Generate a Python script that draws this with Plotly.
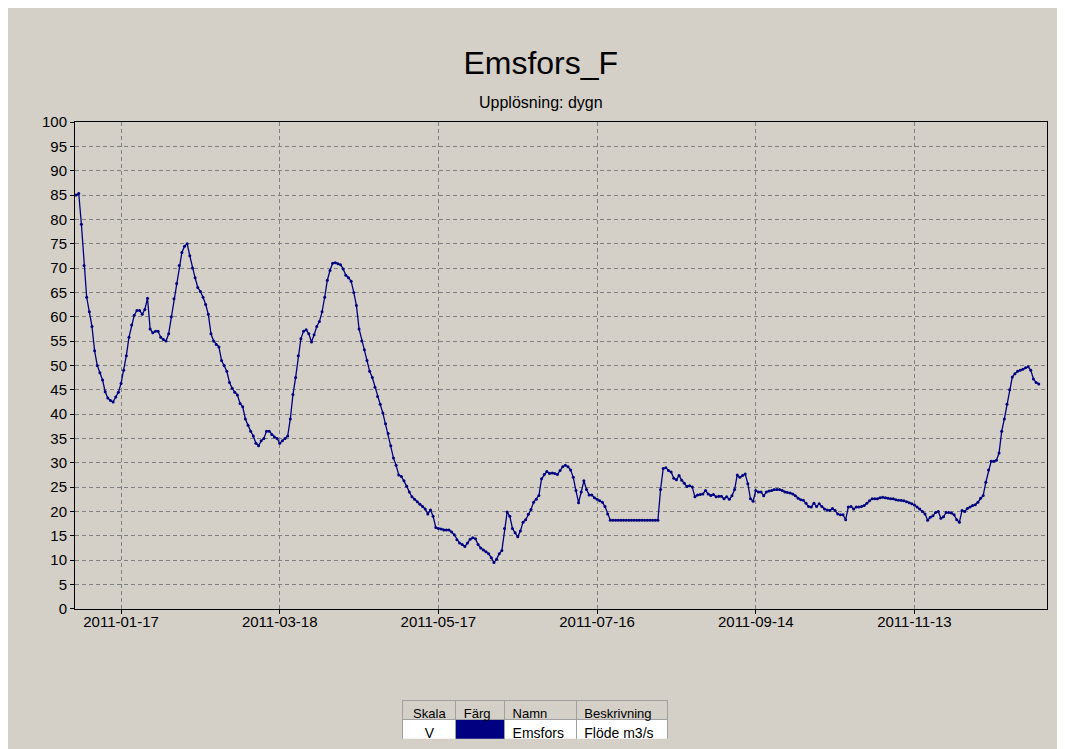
import pandas as pd
import plotly.graph_objects as go

# Daily flow (m3/s) for Emsfors, starting 2010-12-31
flow_q1 = [
    85, 85.3, 79, 70.5, 64, 61, 58, 53, 50, 48.5,
    47, 44.6, 43.3, 42.8, 42.5, 43.5, 44.5, 46.3, 49, 52,
    55.8, 58.3, 60.3, 61.3, 61.3, 60.5, 61.5, 63.8, 57.5, 56.7,
    57, 57, 55.8, 55.3, 55, 56.5, 60, 63.7, 66.8, 70.5,
    73.2, 74.5, 75, 72.5, 70, 68, 66, 65.2, 64, 62.5,
    60.5, 56.5, 55, 54.3, 53.8, 51, 50, 48.8, 46.5, 45.3,
    44.5, 43.9, 42.2, 41.5, 39, 37.7, 36.5, 35.5, 34, 33.5,
    34.5, 35, 36.5, 36.5, 35.8, 35.3, 35, 34, 34.5, 35,
    35.5, 39, 44, 47.5, 52, 55.5, 57, 57.3, 56.5, 54.8,
    56.3,
]
flow_q2 = [
    58, 59, 61, 64, 67.5, 69.5, 71, 71.1, 70.9,
    70.7, 69.8, 68.5, 68, 67.3, 65, 62.3, 57.5, 55, 53.2,
    51, 48.8, 47.5, 45.5, 43.6, 42, 40.2, 38, 36, 33.5,
    31, 29.5, 27.5, 27.2, 26.3, 25.2, 24, 23, 22.5, 22,
    21.5, 21, 20.5, 19.5, 20.3, 19, 16.7, 16.5, 16.4, 16.2,
    16.2, 16.2, 15.8, 15.2, 14.2, 13.5, 13.2, 12.8, 13.5, 14.3,
    14.6, 14.4, 13.2, 12.5, 12.1, 11.7, 11.3, 10.5, 9.5, 10.2,
    11.3, 12, 16.5, 19.9, 19, 16.5, 15.6, 14.8, 16, 17.8,
    18.3, 19.4, 20.4, 21.9, 22.5, 23.3, 26.7, 27.6, 28.2, 27.8,
    27.9, 27.8,
]
flow_q3 = [
    27.6, 28.4, 29.2, 29.5, 29.2, 28.5, 27, 24.3,
    21.8, 24, 26.3, 24.5, 23.4, 23.4, 22.8, 22.5, 22.2, 21.9,
    21, 19.5, 18.2, 18.2, 18.2, 18.2, 18.2, 18.2, 18.2, 18.2,
    18.2, 18.2, 18.2, 18.2, 18.2, 18.2, 18.2, 18.2, 18.2, 18.2,
    18.2, 24.5, 28.8, 29, 28.4, 28.1, 26.8, 26.5, 27.4, 26.4,
    25.8, 25.1, 25.3, 25, 23, 23.4, 23.5, 23.6, 24.3, 23.6,
    23.3, 23.5, 23, 23.1, 23.1, 22.6, 23, 22.5, 23.2, 24.5,
    27.5, 27, 27.4, 27.7, 25.7, 22.6, 22.1, 24.3, 24, 24,
    23.2, 24, 24.2, 24.3, 24.5, 24.5, 24.5, 24.3, 24, 23.9,
    23.8, 23.6, 23.2,
]
flow_q4 = [
    22.7, 22.4, 22.3, 21.7, 21, 20.9, 21.7,
    21, 21.6, 21, 20.5, 20.3, 20.2, 20.6, 20.2, 19.5, 19.3,
    19.3, 18.3, 20.9, 21, 20.5, 20.9, 20.9, 21, 21.2, 21.7,
    22.2, 22.6, 22.6, 22.6, 22.8, 22.9, 22.8, 22.7, 22.6, 22.6,
    22.4, 22.3, 22.3, 22.2, 22, 21.8, 21.6, 21.3, 20.9, 20.5,
    20, 19.5, 18.2, 18.8, 19.1, 19.8, 20, 18.6, 18.9, 19.8,
    19.8, 19.7, 19.3, 18.3, 17.8, 20.2, 20, 20.6, 20.9, 21.2,
    21.4, 21.9, 22.7, 23.3, 26, 28.5, 30.3, 30.3, 30.5, 32,
    36.5, 39, 42, 45, 47.6, 48.3, 48.8, 49, 49.2, 49.5,
    49.7, 49, 47.2, 46.5, 46.2,
]
flow = flow_q1 + flow_q2 + flow_q3 + flow_q4
dates = pd.date_range("2010-12-31", periods=len(flow), freq="D")

# legend table contents
table_header = ["Skala", "Färg", "Namn", "Beskrivning"]
table_row = ["V", "", "Emsfors", "Flöde m3/s"]

BG = "#D4D0C8"
NAVY = "#000080"
FONT = "Liberation Sans, Arial"

fig = go.Figure()

fig.add_trace(go.Scatter(
    x=dates,
    y=flow,
    mode="lines+markers",
    line=dict(color=NAVY, width=1.3),
    marker=dict(color=NAVY, size=3, symbol="circle"),
    showlegend=False,
    hovertemplate="%{x|%Y-%m-%d}<br>%{y:.1f} m3/s<extra>Emsfors</extra>",
))

fig.add_trace(go.Table(
    domain=dict(x=[0.3374, 0.611], y=[0.0, 0.062]),
    columnwidth=[53, 49, 72, 92],
    header=dict(
        values=table_header,
        fill_color=BG,
        line=dict(color="#A0A0A0", width=1),
        align=["center", "left", "left", "left"],
        font=dict(family=FONT, size=13, color="black"),
        height=19,
    ),
    cells=dict(
        values=[[v] for v in table_row],
        fill_color=[["white"], [NAVY], ["white"], ["white"]],
        line=dict(color="#A0A0A0", width=1),
        align=["center", "center", "left", "left"],
        font=dict(family=FONT, size=14, color="black"),
        height=22,
    ),
))

axis_common = dict(
    showline=True,
    linecolor="black",
    linewidth=1,
    mirror=True,
    ticks="outside",
    ticklen=4,
    tickcolor="black",
    showgrid=True,
    gridcolor="#808080",
    gridwidth=1,
    griddash="4px,3px",
    zeroline=False,
    tickfont=dict(family=FONT, size=15, color="black"),
)

fig.update_xaxes(
    **axis_common,
    range=["2010-12-30 14:00", "2012-01-02 03:00"],
    tick0="2011-01-17",
    dtick=60 * 86400000,
    tickformat="%Y-%m-%d",
    ticklabelstandoff=-5,
)
fig.update_yaxes(
    **axis_common,
    range=[0, 100],
    dtick=5,
    domain=[0.211, 1],
)

fig.add_annotation(
    text="Upplösning: dygn",
    xref="paper", yref="paper",
    x=0.479, y=1.032,
    xanchor="center", yanchor="middle",
    showarrow=False,
    font=dict(family=FONT, size=16, color="black"),
)

fig.update_layout(
    title=dict(
        text="Emsfors_F",
        x=0.504, xanchor="center",
        y=0.926, yanchor="middle",
        font=dict(family=FONT, size=32, color="black"),
    ),
    width=1057,
    height=741,
    paper_bgcolor=BG,
    plot_bgcolor=BG,
    margin=dict(l=67, r=18, t=114, b=2),
)

fig.write_html("out.html")
